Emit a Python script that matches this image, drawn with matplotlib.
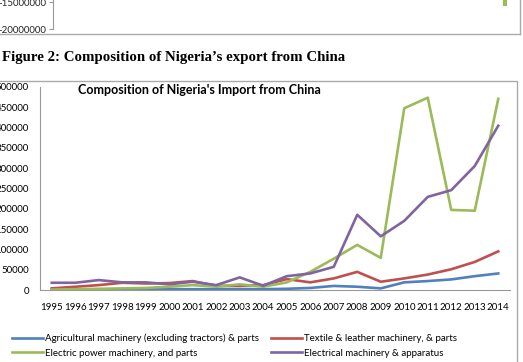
import matplotlib
matplotlib.use("Agg")
from matplotlib import pyplot as plt
from matplotlib.patches import Rectangle
from matplotlib.lines import Line2D

# 数据：从图上读出来的估计值
years = [str(y) for y in range(1995, 2015)]
agri = [1000, 1000, 1500, 1500, 1500, 2000, 2000, 2000, 2500, 2000,
        3000, 5000, 10000, 8000, 4000, 18800, 22000, 26000, 34000, 40700]
textile = [4000, 8000, 12000, 17800, 16000, 17000, 22000, 10000, 10500, 12000,
           26800, 18800, 28500, 44600, 20300, 28500, 38000, 51000, 69000, 95000]
elec_power = [1000, 2000, 3000, 4000, 5000, 8000, 12000, 8000, 14000, 8000,
              18800, 44600, 77000, 111000, 79000, 447000, 473000, 197000, 195000, 470000]
elec_mach = [17800, 17800, 24400, 18800, 18800, 14000, 20300, 12000, 31000, 10500,
             34000, 40700, 57000, 185000, 132000, 170000, 229000, 245600, 305000, 404000]
labels = ["Agricultural machinery (excluding tractors) & parts",
          "Textile & leather machinery, & parts",
          "Electric power machinery, and parts",
          "Electrical machinery & apparatus"]
colors = ["#4F81BD", "#C0504D", "#9BBB59", "#8064A2"]

# 上一张图被截掉的底部
top_ticks = [-15000000, -20000000]
top_bar = [-15700000]

W, H = 523, 362
fig = plt.figure(figsize=(W / 100, H / 100), dpi=100)
font = "Lato"

# 截掉的上一张图
ax0 = fig.add_axes([53 / W, 1 - 29.5 / H, (517 - 53) / W, 55 / H])
ax0.bar([19], top_bar, width=0.18, color="#9BBB59")
ax0.set_xlim(-0.5, 19.5)
ax0.set_ylim(-20000000, -10000000)
ax0.set_yticks(top_ticks)
ax0.set_yticklabels([str(t) for t in top_ticks], fontsize=7, family=font, color="#222222")
ax0.set_xticks([])
for s in ["top", "right", "bottom"]:
    ax0.spines[s].set_visible(False)
ax0.spines["left"].set_color("#999999")
ax0.tick_params(axis="y", length=3, color="#999999", pad=2)
ax0.patch.set_alpha(0)
fig.add_artist(Line2D([-0.01, 520 / W], [1 - 34 / H, 1 - 34 / H], color="#aaaaaa", lw=1))
fig.add_artist(Line2D([520 / W, 520 / W], [1 - 34 / H, 1.01], color="#aaaaaa", lw=1))

# 图注
fig.text(2 / W, 1 - 57 / H, "Figure 2: Composition of Nigeria\u2019s export from China",
         family="Liberation Serif", weight="bold", fontsize=10.7, va="center", ha="left")

# 图表外框
fig.add_artist(Rectangle((-0.01, -0.01), 517 / W + 0.01, 1 - 81 / H + 0.01,
                         fill=False, edgecolor="#aaaaaa", lw=1))

ax = fig.add_axes([40 / W, 1 - 290 / H, 470 / W, (290 - 86.7) / H])
x = range(len(years))
for vals, c in zip([agri, textile, elec_power, elec_mach], colors):
    ax.plot(x, vals, color=c, lw=1.9)
ax.set_xlim(-0.5, len(years) - 0.5)
ax.set_ylim(0, 500000)
ax.set_yticks(range(0, 500001, 50000))
ax.set_yticklabels([str(v) for v in range(0, 500001, 50000)], fontsize=7, family=font)
ax.set_xticks(list(x))
ax.set_xticklabels(years, fontsize=7, family=font)
ax.tick_params(axis="y", length=0, pad=8)
ax.tick_params(axis="x", length=0, pad=9)
for s in ["top", "right"]:
    ax.spines[s].set_visible(False)
for s in ["left", "bottom"]:
    ax.spines[s].set_color("#999999")
ax.set_title("Composition of Nigeria's Import from China", fontsize=9, weight="bold",
             family=font, loc="left", x=0.08, y=0.985, va="center", pad=0)

handles = [Line2D([], [], color=c, lw=1.9) for c in colors]
order = [0, 2, 1, 3]
fig.legend([handles[i] for i in order], [labels[i] for i in order], ncol=2,
           loc="upper left", bbox_to_anchor=(8 / W, 1 - 330 / H), frameon=False,
           prop={"family": font, "size": 7}, handlelength=3.2, handletextpad=0.2,
           columnspacing=1.2, labelspacing=0.55, borderaxespad=0)

fig.savefig("out.png", dpi=100)
